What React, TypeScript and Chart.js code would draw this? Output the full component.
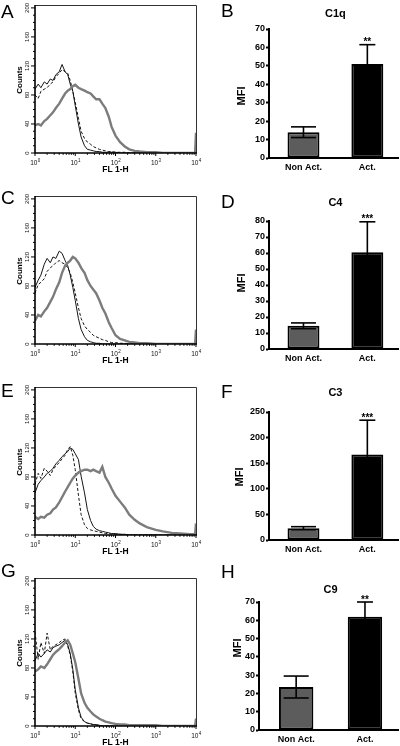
import React, { useEffect, useRef } from 'react';
import { Chart, registerables } from 'chart.js';

Chart.register(...registerables);

// ---------- DATA ----------
// FL 1-H channel values (x positions of histogram points)
const FL_CHANNELS = [1, 1.2, 1.4, 1.7, 2, 2.4, 2.8, 3.3, 4, 4.7, 5.6, 6.5, 7.5, 8.7, 10, 12, 14, 17, 20, 24, 28, 33, 40, 47, 56, 68, 80, 100, 130, 170, 220, 300, 400, 600, 1000, 1500, 2500, 4000, 7000, 9500, 10000];

// Panel A (C1q)
const A_ACT = [38, 40, 38, 44, 47, 52, 56, 62, 68, 75, 82, 86, 88, 92, 94, 90, 88, 86, 84, 82, 78, 74, 74, 68, 62, 50, 36, 24, 15, 9, 5, 3, 2, 1, 1, 0, 0, 0, 0, 0, 28];
const A_CTRL = [88, 95, 90, 98, 95, 102, 100, 108, 112, 122, 112, 108, 95, 85, 65, 40, 22, 10, 5, 4, 3, 2, 2, 1, 1, 1, 1, 1, 0, 0, 0, 0, 0, 0, 0, 0, 0, 0, 0, 0, 8];
const A_ISO = [80, 75, 85, 88, 90, 95, 98, 105, 110, 115, 112, 110, 100, 85, 70, 48, 30, 20, 15, 12, 9, 7, 5, 4, 3, 2, 2, 1, 1, 1, 0, 0, 0, 0, 0, 0, 0, 0, 0, 0, 20];

// Panel C (C4)
const C_ACT = [32, 40, 38, 45, 50, 58, 65, 75, 85, 98, 108, 112, 115, 120, 118, 112, 105, 98, 88, 80, 75, 70, 60, 50, 42, 30, 22, 12, 7, 5, 3, 2, 1, 1, 0, 0, 0, 0, 0, 0, 20];
const C_CTRL = [78, 88, 95, 110, 118, 112, 120, 118, 128, 125, 115, 108, 95, 78, 60, 35, 20, 10, 5, 3, 2, 1, 1, 0, 0, 0, 0, 0, 0, 0, 0, 0, 0, 0, 0, 0, 0, 0, 0, 0, 5];
const C_ISO = [70, 82, 85, 90, 100, 105, 108, 112, 115, 112, 110, 105, 98, 85, 70, 50, 35, 25, 20, 16, 12, 10, 8, 6, 5, 3, 2, 2, 1, 1, 0, 0, 0, 0, 0, 0, 0, 0, 0, 0, 12];

// Panel E (C3)
const E_ACT = [25, 22, 25, 24, 28, 30, 35, 38, 45, 52, 60, 66, 72, 78, 82, 86, 88, 90, 90, 88, 90, 88, 86, 94, 80, 72, 64, 54, 46, 38, 28, 21, 16, 11, 7, 5, 3, 2, 1, 1, 16];
const E_CTRL = [58, 70, 75, 80, 85, 88, 92, 98, 103, 108, 112, 115, 120, 118, 112, 104, 81, 58, 35, 20, 12, 8, 6, 5, 4, 3, 2, 2, 1, 1, 0, 0, 0, 0, 0, 0, 0, 0, 0, 0, 5];
const E_ISO = [70, 85, 78, 92, 88, 82, 90, 95, 100, 105, 110, 118, 122, 110, 90, 55, 28, 14, 9, 7, 6, 5, 4, 3, 2, 2, 1, 1, 1, 0, 0, 0, 0, 0, 0, 0, 0, 0, 0, 0, 8];

// Panel G (C9)
const G_ACT = [75, 78, 82, 80, 85, 92, 98, 102, 106, 110, 115, 118, 112, 100, 88, 65, 45, 32, 25, 20, 16, 13, 10, 8, 6, 5, 4, 3, 2, 2, 1, 1, 1, 1, 1, 0, 0, 0, 0, 0, 10];
const G_CTRL = [90, 100, 95, 100, 105, 102, 108, 110, 112, 115, 118, 112, 100, 78, 50, 25, 12, 6, 4, 3, 2, 2, 1, 0, 0, 0, 0, 0, 0, 0, 0, 0, 0, 0, 0, 0, 0, 0, 0, 0, 4];
const G_ISO = [130, 92, 115, 100, 128, 105, 110, 112, 115, 118, 120, 110, 98, 75, 45, 22, 10, 6, 4, 3, 2, 1, 1, 0, 0, 0, 0, 0, 0, 0, 0, 0, 0, 0, 0, 0, 0, 0, 0, 0, 10];

// Histogram axis ticks
const HIST_Y_LABELS = [0, 40, 80, 120, 160, 200];
const HIST_Y_MINOR_STEP = 10;
const HIST_X_DECADES = [1, 10, 100, 1000, 10000];
const HIST_X_EXPONENTS = ['0', '1', '2', '3', '4'];
const HIST_X_MINOR_MULTS = [2, 3, 4, 5, 6, 7, 8, 9];

// Bar charts (MFI)
const BAR_CATEGORIES = ['Non Act.', 'Act.'];
const C1Q_MEAN = [14, 51];
const C1Q_SEM = [2.9, 10.5];
const C1Q_STARS = ['', '**'];
const C4_MEAN = [14.5, 60.5];
const C4_SEM = [1.8, 19];
const C4_STARS = ['', '***'];
const C3_MEAN = [23, 167];
const C3_SEM = [3, 67];
const C3_STARS = ['', '***'];
const C9_MEAN = [23.5, 62];
const C9_SEM = [6, 8];
const C9_STARS = ['', '**'];

// ---------- STYLE / LAYOUT ----------
const W = 400;
const H = 746;
const FONT = '"Liberation Sans", Arial, Helvetica, sans-serif';
const BAR_COLORS = ['#5c5c5c', '#000000'];
const ERR_CAP_WIDTH = [25, 16];

const HIST_PANELS = [
  { letter: 'A', zeroY: 153, letterY: 18, act: A_ACT, ctrl: A_CTRL, iso: A_ISO },
  { letter: 'C', zeroY: 344, letterY: 204, act: C_ACT, ctrl: C_CTRL, iso: C_ISO },
  { letter: 'E', zeroY: 535, letterY: 397, act: E_ACT, ctrl: E_CTRL, iso: E_ISO },
  { letter: 'G', zeroY: 726, letterY: 577, act: G_ACT, ctrl: G_CTRL, iso: G_ISO },
];

const BAR_PANELS = [
  { letter: 'B', title: 'C1q', axisX: 269, zeroY: 158, topY: 29, max: 70, step: 10, letterY: 17, titleY: 16.5, mfiX: 242, mfiY: 96, mean: C1Q_MEAN, sem: C1Q_SEM, stars: C1Q_STARS },
  { letter: 'D', title: 'C4', axisX: 269, zeroY: 349, topY: 221, max: 80, step: 10, letterY: 208, titleY: 206, mfiX: 242, mfiY: 283, mean: C4_MEAN, sem: C4_SEM, stars: C4_STARS },
  { letter: 'F', title: 'C3', axisX: 269, zeroY: 540, topY: 412, max: 250, step: 50, letterY: 398, titleY: 396, mfiX: 240, mfiY: 477, mean: C3_MEAN, sem: C3_SEM, stars: C3_STARS },
  { letter: 'H', title: 'C9', axisX: 259, zeroY: 730, topY: 602, max: 70, step: 10, letterY: 578, titleY: 593, mfiX: 238, mfiY: 648, mean: C9_MEAN, sem: C9_SEM, stars: C9_STARS },
];

function seg(ctx: CanvasRenderingContext2D, x1: number, y1: number, x2: number, y2: number) {
  ctx.beginPath();
  ctx.moveTo(x1, y1);
  ctx.lineTo(x2, y2);
  ctx.stroke();
}

function histPlugin(p: any) {
  return {
    id: 'histDecor' + p.letter,
    afterDraw(chart: any) {
      const { ctx, chartArea: a } = chart;
      const xs = chart.scales.x;
      const ys = chart.scales.y;
      ctx.save();
      // frame
      ctx.strokeStyle = '#333';
      ctx.lineWidth = 1;
      ctx.beginPath();
      ctx.moveTo(a.left, a.top + 0.5);
      ctx.lineTo(a.right + 0.5, a.top + 0.5);
      ctx.lineTo(a.right + 0.5, a.bottom);
      ctx.stroke();
      ctx.strokeStyle = '#000';
      ctx.lineWidth = 1.6;
      ctx.beginPath();
      ctx.moveTo(a.left, a.top);
      ctx.lineTo(a.left, a.bottom);
      ctx.lineTo(a.right + 1, a.bottom);
      ctx.stroke();

      // y ticks
      ctx.lineWidth = 1;
      const yTop = HIST_Y_LABELS[HIST_Y_LABELS.length - 1];
      for (let v = 0; v <= yTop; v += HIST_Y_MINOR_STEP) {
        const py = ys.getPixelForValue(v);
        const len = HIST_Y_LABELS.includes(v) ? 4 : 2;
        seg(ctx, a.left - len, py, a.left, py);
      }
      ctx.fillStyle = '#111';
      ctx.font = `6px ${FONT}`;
      ctx.textAlign = 'center';
      ctx.textBaseline = 'middle';
      HIST_Y_LABELS.forEach((v) => {
        const py = ys.getPixelForValue(v);
        ctx.save();
        ctx.translate(a.left - 8, py);
        ctx.rotate(-Math.PI / 2);
        ctx.fillText(String(v), 0, 0);
        ctx.restore();
      });

      // x ticks
      HIST_X_DECADES.forEach((d, i) => {
        const px = xs.getPixelForValue(d);
        seg(ctx, px, a.bottom, px, a.bottom + 3);
        if (i < HIST_X_DECADES.length - 1) {
          HIST_X_MINOR_MULTS.forEach((m) => {
            const mx = xs.getPixelForValue(d * m);
            seg(ctx, mx, a.bottom, mx, a.bottom + 1.8);
          });
        }
        ctx.font = `6.5px ${FONT}`;
        const w1 = ctx.measureText('10').width;
        ctx.font = `4.5px ${FONT}`;
        const w2 = ctx.measureText(HIST_X_EXPONENTS[i]).width;
        const start = px - (w1 + w2) / 2;
        ctx.textAlign = 'left';
        ctx.textBaseline = 'alphabetic';
        ctx.font = `6.5px ${FONT}`;
        ctx.fillText('10', start, a.bottom + 11.5);
        ctx.font = `4.5px ${FONT}`;
        ctx.fillText(HIST_X_EXPONENTS[i], start + w1 + 0.3, a.bottom + 8.5);
      });

      // axis titles
      ctx.fillStyle = '#000';
      ctx.font = `bold 8.5px ${FONT}`;
      ctx.textAlign = 'center';
      ctx.textBaseline = 'alphabetic';
      ctx.fillText('FL 1-H', (a.left + a.right) / 2, a.bottom + 19);
      ctx.save();
      ctx.font = `bold 8px ${FONT}`;
      ctx.textBaseline = 'middle';
      ctx.translate(19.5, (a.top + a.bottom) / 2 + 1);
      ctx.rotate(-Math.PI / 2);
      ctx.fillText('Counts', 0, 0);
      ctx.restore();

      // panel letter
      ctx.font = `19px ${FONT}`;
      ctx.textAlign = 'left';
      ctx.textBaseline = 'alphabetic';
      ctx.fillText(p.letter, 1, p.letterY);
      ctx.restore();
    },
  };
}

function histConfig(p: any): any {
  const pts = (arr: number[]) => FL_CHANNELS.map((x, i) => ({ x, y: arr[i] }));
  return {
    type: 'line',
    data: {
      datasets: [
        { label: 'Activated', data: pts(p.act), borderColor: '#7c7c7c', borderWidth: 2.4, fill: false },
        { label: 'Control', data: pts(p.ctrl), borderColor: '#151515', borderWidth: 1, fill: false },
        { label: 'Isotype', data: pts(p.iso), borderColor: '#151515', borderWidth: 1, borderDash: [3, 2], fill: false },
      ],
    },
    options: {
      responsive: false,
      animation: false,
      events: [],
      layout: { padding: { left: 35, right: W - 196, top: p.zeroY - 148, bottom: H - p.zeroY } },
      elements: { point: { radius: 0 }, line: { tension: 0 } },
      plugins: { legend: { display: false }, tooltip: { enabled: false }, title: { display: false } },
      scales: {
        x: { type: 'logarithmic', min: 1, max: 10000, display: false },
        y: { type: 'linear', min: 0, max: 204, display: false },
      },
    },
    plugins: [histPlugin(p)],
  };
}

function barPlugin(p: any) {
  return {
    id: 'barDecor' + p.letter,
    afterDatasetsDraw(chart: any) {
      const { ctx } = chart;
      const ys = chart.scales.y;
      const meta = chart.getDatasetMeta(0);
      ctx.save();
      ctx.strokeStyle = '#000';
      ctx.lineWidth = 1.6;
      meta.data.forEach((el: any, i: number) => {
        const cx = el.x;
        const top = ys.getPixelForValue(p.mean[i] + p.sem[i]);
        const bot = ys.getPixelForValue(p.mean[i] - p.sem[i]);
        const h = ERR_CAP_WIDTH[i] / 2;
        seg(ctx, cx, top, cx, bot);
        seg(ctx, cx - h, top, cx + h, top);
        seg(ctx, cx - h, bot, cx + h, bot);
        if (p.stars[i]) {
          ctx.fillStyle = '#000';
          ctx.font = `bold 10px ${FONT}`;
          ctx.textAlign = 'center';
          ctx.textBaseline = 'alphabetic';
          ctx.fillText(p.stars[i], cx, top + 0.5);
        }
      });
      ctx.restore();
    },
    afterDraw(chart: any) {
      const { ctx } = chart;
      const meta = chart.getDatasetMeta(0);
      const midX = (meta.data[0].x + meta.data[1].x) / 2;
      ctx.save();
      ctx.fillStyle = '#000';
      ctx.textAlign = 'center';
      ctx.textBaseline = 'alphabetic';
      ctx.font = `bold 11px ${FONT}`;
      ctx.fillText(p.title, midX, p.titleY);
      ctx.save();
      ctx.textBaseline = 'middle';
      ctx.translate(p.mfiX, p.mfiY);
      ctx.rotate(-Math.PI / 2);
      ctx.fillText('MFI', 0, 0);
      ctx.restore();
      ctx.font = `19px ${FONT}`;
      ctx.textAlign = 'left';
      ctx.fillText(p.letter, 221, p.letterY);
      ctx.restore();
    },
  };
}

function barConfig(p: any): any {
  return {
    type: 'bar',
    data: {
      datasets: [
        {
          label: p.title,
          data: p.mean.map((m: number, i: number) => ({ x: i, y: m })),
          backgroundColor: BAR_COLORS,
          borderColor: '#000',
          borderWidth: 2,
          borderSkipped: false,
          barPercentage: 0.5,
          categoryPercentage: 1,
        },
      ],
    },
    options: {
      responsive: false,
      animation: false,
      events: [],
      layout: { padding: { left: p.axisX - 40, right: 2, top: p.topY, bottom: H - p.zeroY - 20 } },
      plugins: { legend: { display: false }, tooltip: { enabled: false }, title: { display: false } },
      scales: {
        x: {
          type: 'linear',
          min: -0.54,
          max: 1.48,
          offset: false,
          grid: { display: true, drawOnChartArea: false, drawTicks: false, offset: false },
          border: { display: true, color: '#000', width: 2 },
          afterBuildTicks: (s: any) => {
            s.ticks = BAR_CATEGORIES.map((_, i) => ({ value: i }));
          },
          ticks: {
            callback: (v: number) => BAR_CATEGORIES[v],
            color: '#000',
            font: { family: FONT, size: 9, weight: 'bold' },
            padding: 4,
            maxRotation: 0,
            autoSkip: false,
          },
          afterFit: (s: any) => {
            s.height = 20;
          },
        },
        y: {
          type: 'linear',
          min: 0,
          max: p.max,
          grid: { display: true, drawOnChartArea: false, drawTicks: true, tickLength: 3, tickWidth: 2, tickColor: '#000' },
          border: { display: true, color: '#000', width: 2 },
          ticks: { stepSize: p.step, color: '#000', font: { family: FONT, size: 9, weight: 'bold' }, padding: 1 },
          afterFit: (s: any) => {
            s.width = 40;
          },
        },
      },
    },
    plugins: [barPlugin(p)],
  };
}

function ChartCanvas({ make }: { make: () => any }) {
  const ref = useRef<HTMLCanvasElement | null>(null);
  useEffect(() => {
    if (!ref.current) return;
    const chart = new Chart(ref.current, make());
    return () => chart.destroy();
  }, [make]);
  return (
    <canvas
      ref={ref}
      width={W}
      height={H}
      style={{ position: 'absolute', left: 0, top: 0, width: W, height: H }}
    />
  );
}

const MAKERS = [
  ...HIST_PANELS.map((p) => () => histConfig(p)),
  ...BAR_PANELS.map((p) => () => barConfig(p)),
];

export default function App() {
  return (
    <div style={{ position: 'absolute', left: 0, top: 0, width: W, height: H, overflow: 'hidden', background: '#fff' }}>
      {MAKERS.map((m, i) => (
        <ChartCanvas key={i} make={m} />
      ))}
    </div>
  );
}
